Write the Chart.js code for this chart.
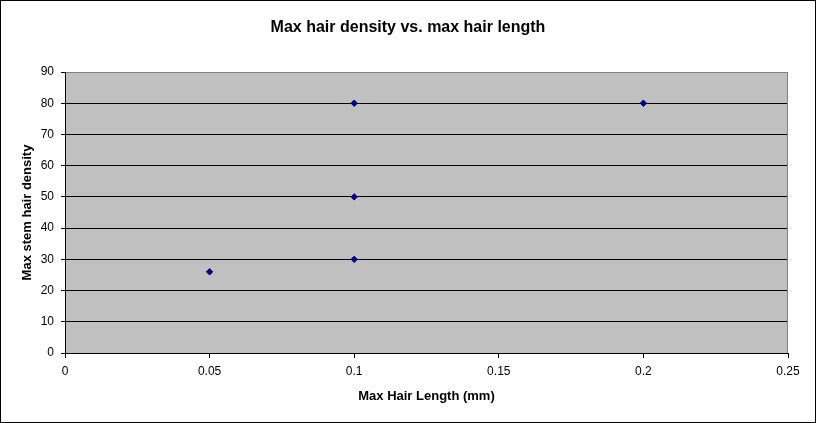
<!DOCTYPE html>
<html>
<head>
<meta charset="utf-8">
<script src="https://cdn.jsdelivr.net/npm/chart.js@4"></script>
<style>
html,body{margin:0;padding:0;background:#fff;}
#wrap{width:816px;height:423px;position:relative;}
</style>
</head>
<body>
<div id="wrap"><canvas id="c" width="816" height="423"></canvas></div>
<script>
const chartTitle = "Max hair density vs. max hair length";
const xAxisTitle = "Max Hair Length (mm)";
const yAxisTitle = "Max stem hair density";
const hairLength = [0.05, 0.1, 0.1, 0.1, 0.2];
const hairDensity = [26, 30, 50, 80, 80];
const xTicks = [0, 0.05, 0.1, 0.15, 0.2, 0.25];
const xTickLabels = ["0", "0.05", "0.1", "0.15", "0.2", "0.25"];
const yTicks = [0, 10, 20, 30, 40, 50, 60, 70, 80, 90];

const FONT = "'Liberation Sans', Arial, sans-serif";

const plotBg = {
  id: 'plotBg',
  beforeDraw(chart) {
    const {ctx, chartArea: a} = chart;
    ctx.save();
    ctx.fillStyle = '#C0C0C0';
    ctx.fillRect(a.left, a.top, a.right - a.left, a.bottom - a.top);
    ctx.restore();
  },
  afterDraw(chart) {
    const {ctx, chartArea: a} = chart;
    ctx.save();
    ctx.strokeStyle = '#808080';
    ctx.lineWidth = 1;
    ctx.beginPath();
    const r = Math.round(a.right) - 0.5;
    ctx.moveTo(r, Math.round(a.top));
    ctx.lineTo(r, Math.round(a.bottom));
    ctx.stroke();
    ctx.strokeStyle = '#000';
    ctx.strokeRect(0.5, 0.5, chart.width - 1, chart.height - 1);
    ctx.restore();
  }
};

new Chart(document.getElementById('c'), {
  type: 'scatter',
  data: {
    datasets: [{
      data: hairLength.map((x, i) => ({x: x, y: hairDensity[i]})),
      pointStyle: 'rectRot',
      pointRadius: 3.2,
      pointHoverRadius: 3.2,
      backgroundColor: '#000080',
      borderColor: '#000080',
      borderWidth: 1
    }]
  },
  options: {
    responsive: false,
    animation: false,
    devicePixelRatio: 1,
    layout: {padding: {left: 0, right: 0, top: 0, bottom: 0}},
    plugins: {
      legend: {display: false},
      tooltip: {enabled: false},
      title: {
        display: true,
        text: chartTitle,
        color: '#000',
        font: {family: FONT, size: 16, weight: 'bold'},
        padding: {top: 18.4, bottom: 34.4}
      }
    },
    scales: {
      x: {
        type: 'linear',
        min: 0, max: 0.25,
        afterBuildTicks(scale) { scale.ticks = xTicks.map(v => ({value: v})); },
        afterFit(scale) { scale.height = 70; },
        ticks: {
          color: '#000',
          font: {family: FONT, size: 12},
          padding: 6,
          maxRotation: 0,
          callback: (v, i) => xTickLabels[i]
        },
        grid: {
          drawOnChartArea: false,
          drawTicks: true,
          tickLength: 5,
          tickColor: '#000',
          color: '#000'
        },
        border: {color: '#000', width: 1},
        title: {
          display: true,
          text: xAxisTitle,
          color: '#000',
          font: {family: FONT, size: 13, weight: 'bold'},
          padding: {top: 0, bottom: 19.2}
        }
      },
      y: {
        type: 'linear',
        min: 0, max: 90,
        afterBuildTicks(scale) { scale.ticks = yTicks.map(v => ({value: v})); },
        afterFit(scale) { scale.width = 65; },
        ticks: {
          color: '#000',
          font: {family: FONT, size: 12},
          padding: 7
        },
        grid: {
          drawOnChartArea: true,
          drawTicks: true,
          tickLength: 4,
          tickColor: '#000',
          color: (c) => (c.tick && c.tick.value === 90) ? '#808080' : '#000'
        },
        border: {color: '#000', width: 1},
        title: {
          display: true,
          text: yAxisTitle,
          color: '#000',
          font: {family: FONT, size: 13, weight: 'bold'},
          padding: {top: 19.7, bottom: 0}
        }
      },
      yRight: {
        type: 'linear',
        position: 'right',
        min: 0, max: 90,
        afterFit(scale) { scale.width = 28; },
        ticks: {display: false},
        grid: {display: false, drawTicks: false},
        border: {display: false},
        title: {display: false}
      }
    }
  },
  plugins: [plotBg]
});
</script>
</body>
</html>
